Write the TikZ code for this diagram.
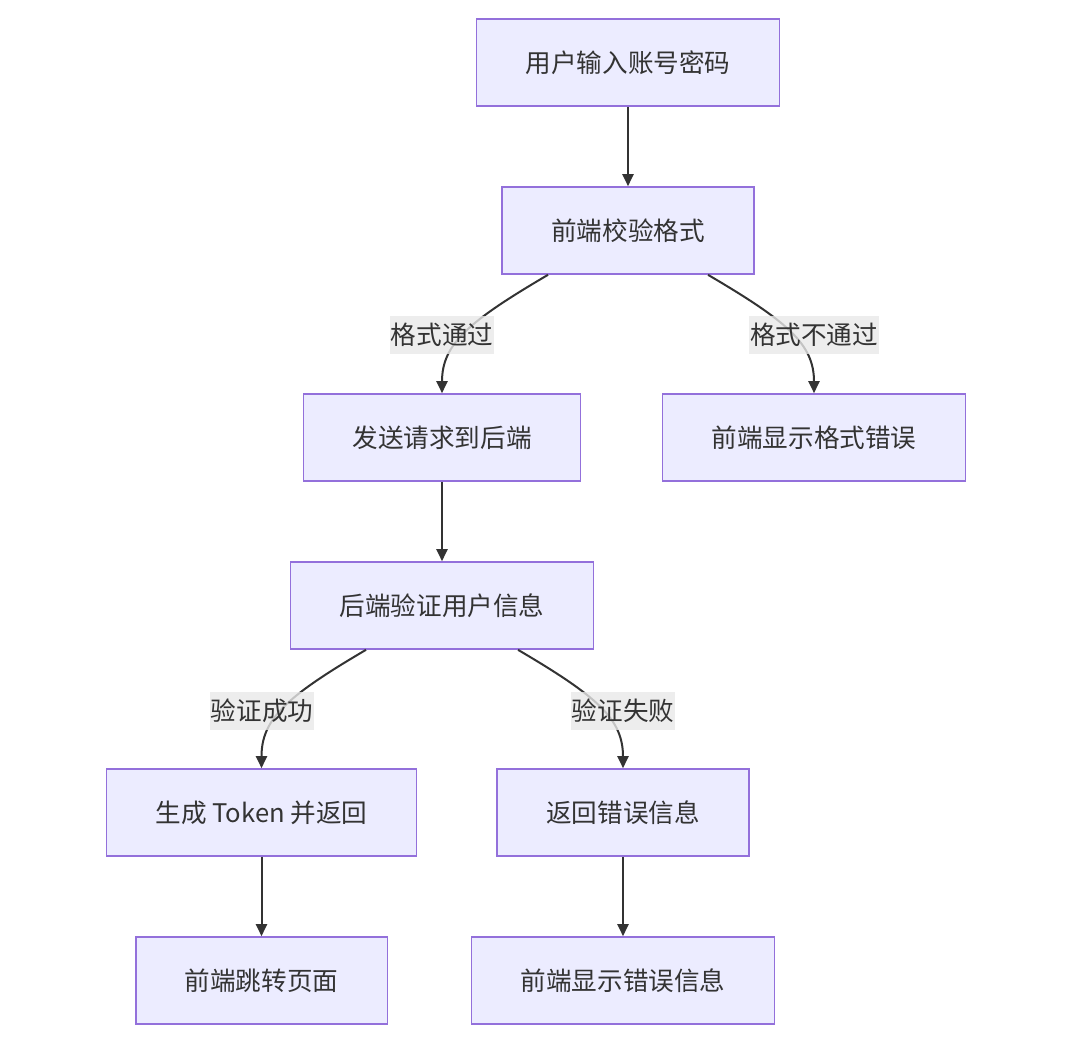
\documentclass[tikz,border=0pt]{standalone}
\usepackage{fontspec}
\setmainfont{Noto Sans CJK SC}
\usepackage{xcolor}
\usetikzlibrary{arrows.meta}
\definecolor{boxfill}{HTML}{ECECFF}
\definecolor{boxline}{HTML}{9370DB}
\definecolor{ink}{HTML}{333333}
\definecolor{labelbg}{HTML}{E8E8E8}
\tikzset{
  box/.style={draw=boxline, fill=boxfill, line width=0.8pt, text=ink, inner xsep=24.5pt,
    minimum height=43.5pt, font=\fontsize{12.8}{15}\selectfont},
  flow/.style={draw=ink, line width=1pt, -{Triangle[length=6pt,width=5.5pt]}},
  edgelabel/.style={fill=labelbg, fill opacity=0.8, text opacity=1, text=ink, inner xsep=0.5pt,
    inner ysep=0pt, minimum height=19pt, font=\fontsize{12.8}{15}\selectfont}
}
\begin{document}
\begin{tikzpicture}[x=0.5pt, y=-0.5pt]
\useasboundingbox (0,0) rectangle (1080,1045);
% boxes, at pixel positions
\node[box] (input) at (628,62.5) {用户输入账号密码};
\node[box] (check) at (628,230.5) {前端校验格式};
\node[box] (send) at (442,437.5) {发送请求到后端};
\node[box] (fmterr) at (814,437.5) {前端显示格式错误};
\node[box] (verify) at (442,605.5) {后端验证用户信息};
\node[box] (token) at (261.5,812.5) {生成 Token 并返回};
\node[box] (back) at (623,812.5) {返回错误信息};
\node[box] (jump) at (261.5,980.5) {前端跳转页面};
\node[box] (showerr) at (623,980.5) {前端显示错误信息};
% straight arrows
\draw[flow] (input) -- (check);
\draw[flow] (send) -- (verify);
\draw[flow] (token) -- (jump);
\draw[flow] (back) -- (showerr);
% branches
\draw[flow] ([xshift=-40pt]check.south) .. controls +(-80,47) and +(0,-49) .. (send.north);
\draw[flow] ([xshift=40pt]check.south) .. controls +(80,47) and +(0,-49) .. (fmterr.north);
\draw[flow] ([xshift=-38pt]verify.south) .. controls +(-80,47) and +(0,-49) .. (token.north);
\draw[flow] ([xshift=38pt]verify.south) .. controls +(80,47) and +(0,-49) .. (back.north);
% labels on top of the branches
\node[edgelabel] (ok) at (442,335) {格式通过};
\node[edgelabel] (notok) at (814,335) {格式不通过};
\node[edgelabel] (pass) at (262,711) {验证成功};
\node[edgelabel] (fail) at (623,711) {验证失败};
\end{tikzpicture}
\end{document}
